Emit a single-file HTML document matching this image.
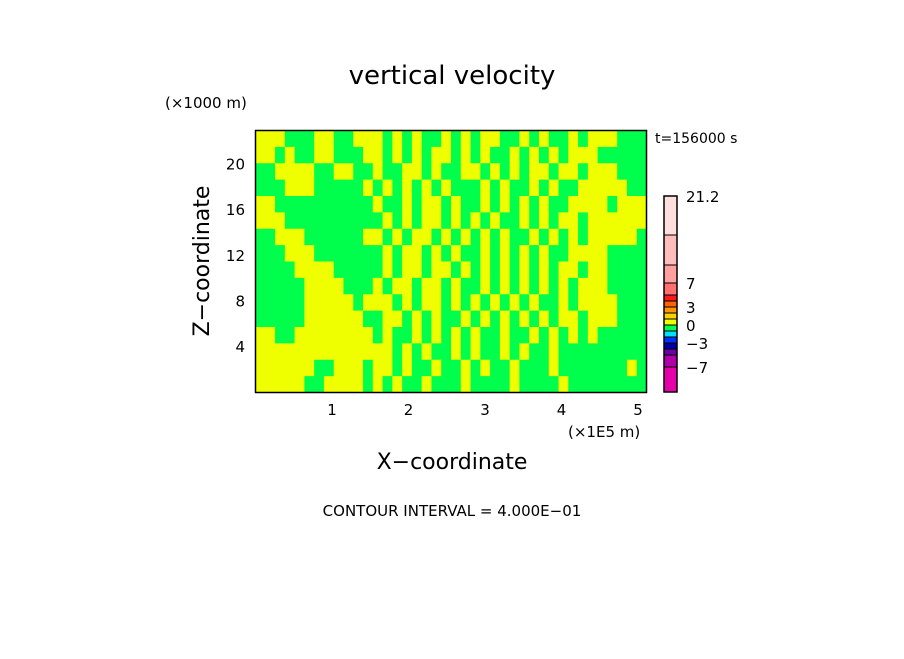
<!DOCTYPE html>
<html><head><meta charset="utf-8"><style>
body{margin:0;background:#fff;}
svg text{font-family:"DejaVu Sans","Liberation Sans",sans-serif;fill:#000;}
</style></head><body>
<svg width="904" height="654" viewBox="0 0 904 654">
<text x="452" y="84" font-size="26" text-anchor="middle">vertical velocity</text>
<text x="165" y="108" font-size="15">(×1000 m)</text>
<text x="655" y="143" font-size="14">t=156000 s</text>
<g id="field"></g>
<rect x="255.5" y="130.5" width="391" height="262" fill="none" stroke="#000" stroke-width="1.5"/>
<g id="axes"></g>
<g id="cbar"></g>
<text x="568" y="437" font-size="15">(×1E5 m)</text>
<text x="452" y="469" font-size="22" text-anchor="middle">X−coordinate</text>
<text x="0" y="0" font-size="22" text-anchor="middle" transform="translate(209,261) rotate(-90)">Z−coordinate</text>
<text x="452" y="516" font-size="15" text-anchor="middle">CONTOUR INTERVAL = 4.000E−01</text>
</svg>
<script>
const xTicks=[1,2,3,4,5];
const zTicks=[4,8,12,16,20];
const xMax=5.11, zMax=23;
const gridRows=[
"YYYGGGYYGGYYYGYGYGGYGYGYYGGYGYGGYGYYYGGG",
"YYGYGGYYGGGYYGYGYGYYGYGYGGYGYGYGYYYGGGGG",
"GGYYYYGGYYGGYGGYYGYGGYYGYGYGYYGYYGYYYGGG",
"GGGYYYGGGGGYGYGYGYGYGGGYGYGGYGYGGYYYYYGG",
"YYGGGGGGGGGGYGGYGYYGYGGYGYGYGYGGYYYYGYYY",
"YYYGGGGGGGGGGYGYGYYGYGYGYGGYGYGYYGYYYYYY",
"GGYYYGGGGGGYYGYGYYGYGYGYGYGGYGYGYGYYYYYG",
"GGGYYYGGGGGGGYGYYGYGYGGYGYGYGYGGYYYYGGGG",
"GGGGYYYYGGGGGYGYYGYYGYGYGYGYGYGYYGYYGGGG",
"GGGGGYYYYGGGYGYYGYYGYGGYGYGYGYGYGYYYGGGG",
"GGGGGYYYYYGYYYGYGYYGYGYGYGYGYGGYGYYYYGGG",
"GGGGGYYYYYYGGYYGYGYGGYGYGYGYGYGYYGYYYGGG",
"YYGGYYYYYYYYGYGGYGYGYGYGGYGGYGYGYGYGGGGG",
"YYYYYYYYYYYYYYGYGYGGYGYGGYGYGGYGGGGGGGGG",
"YYYYYYGGYYYGYYGYGGYGGYGYGGYGGGYGGGGGGGYG",
"YYYYYGGYYYYGYGYGGYGGGYGGGGYGGGGYGGGGGGGG"];
const cbLevels=[-11,-7,-5.5,-4,-3,-2,-1,0,1,2,3,4,5,7,10.5,14,21.2];
const cbColors=["#e600a8","#b000a8","#6a00a8","#0000a0","#0030ff","#00e0ff","#00ff50","#f0ff00","#ffd000","#ff9800","#ff6400","#ff1a1a","#ff7070","#ffa0a0","#ffbcbc","#ffdede"];
const cbLabels=[["21.2",21.2],["7",7],["3",3],["0",0],["−3",-3],["−7",-7]];
const NS="http://www.w3.org/2000/svg";
const X0=255.5,X1=646.5,Y0=392.5,Y1=130.5;
const sx=v=>X0+(X1-X0)*v/xMax, sz=v=>Y0-(Y0-Y1)*v/zMax;
function mk(t,a,p){const e=document.createElementNS(NS,t);for(const k in a)e.setAttribute(k,a[k]);p.appendChild(e);return e;}
const field=document.getElementById('field');
const nr=gridRows.length, nc=gridRows[0].length;
gridRows.forEach((row,r)=>{for(let c=0;c<nc;c++){
 const x=sx(c*xMax/nc), x2=sx((c+1)*xMax/nc), y=sz(zMax-r*zMax/nr), y2=sz(zMax-(r+1)*zMax/nr);
 const e=mk('rect',{x:x,y:y,width:x2-x+0.5,height:y2-y+0.5,fill:row[c]==='Y'?'#f0ff00':'#00ff4c'},field);
 
 
}});
const axes=document.getElementById('axes');
xTicks.forEach(v=>{const t=mk('text',{x:sx(v),y:415,'font-size':15,'text-anchor':'middle'},axes);t.textContent=v;
 
 });
zTicks.forEach(v=>{const t=mk('text',{x:245,y:sz(v)+5,'font-size':15,'text-anchor':'end'},axes);t.textContent=v;
 
 });
const cb=document.getElementById('cbar');
const idxY=[392,367,355,349,343,337,331,325,319,313,307,301,295,283,265,235,196];
const cy=v=>{for(let i=0;i<cbLevels.length-1;i++){if(v<=cbLevels[i+1]){const f=(v-cbLevels[i])/(cbLevels[i+1]-cbLevels[i]);return idxY[i]+(idxY[i+1]-idxY[i])*f;}}return idxY[idxY.length-1];};
cbColors.forEach((col,i)=>{const y1=cy(cbLevels[i+1]),y0=cy(cbLevels[i]);
 const e=mk('rect',{x:664,y:y1,width:13,height:y0-y1,fill:col,stroke:'#000','stroke-width':1},cb);
 
 });
mk('rect',{x:664,y:196,width:13,height:196,fill:'none',stroke:'#000','stroke-width':1.5},cb);
cbLabels.forEach(([s,v])=>{const t=mk('text',{x:686,y:cy(v)+6,'font-size':15},cb);t.textContent=s;
 
 });
</script>
</body></html>
